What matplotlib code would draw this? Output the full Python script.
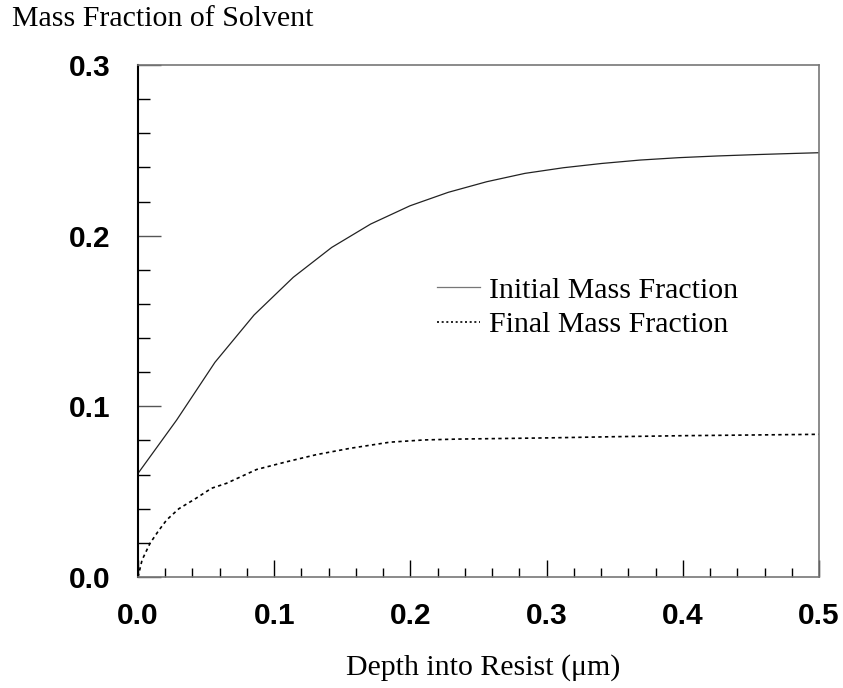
import matplotlib
matplotlib.use("Agg")
import matplotlib.pyplot as plt
from matplotlib.ticker import MultipleLocator, FormatStrFormatter

# Data
depth_initial = [0.0, 0.0284, 0.0565, 0.0852, 0.114, 0.1422, 0.1708, 0.1997, 0.2278,
                 0.256, 0.2841, 0.3123, 0.3404, 0.3686, 0.397, 0.4254, 0.4538, 0.4822, 0.5]
initial_fraction = [0.0607, 0.092, 0.1258, 0.1535, 0.1756, 0.1931, 0.2068, 0.2175, 0.2254,
                    0.2316, 0.2365, 0.2398, 0.2423, 0.2443, 0.2457, 0.2467, 0.2475, 0.2482, 0.2486]

depth_final = [0.0, 0.003, 0.0088, 0.015, 0.021, 0.03, 0.0418, 0.054, 0.065, 0.0871, 0.109,
               0.131, 0.1557, 0.185, 0.21, 0.234, 0.3, 0.349, 0.4, 0.45, 0.5]
final_fraction = [0.0, 0.010, 0.0197, 0.027, 0.0334, 0.040, 0.0457, 0.052, 0.0549, 0.063, 0.0675,
                  0.0717, 0.0754, 0.079, 0.0803, 0.0808, 0.0815, 0.0822, 0.0828, 0.0832, 0.0836]

series_labels = ["Initial Mass Fraction", "Final Mass Fraction"]
x_label = "Depth into Resist (\u03bcm)"
y_label = "Mass Fraction of Solvent"

W, H = 843, 688
fig = plt.figure(figsize=(W / 100, H / 100), dpi=100)
ax = fig.add_axes([138 / W, 1 - 577 / H, (819 - 138) / W, (577 - 65) / H])

ax.plot(depth_initial, initial_fraction, color="#222222", lw=0.9, label=series_labels[0])
ax.plot(depth_final, final_fraction, color="black", lw=1.2, linestyle=(0, (2.0, 2.0)),
        label=series_labels[1])

ax.set_xlim(0, 0.5)
ax.set_ylim(0, 0.3)

ax.xaxis.set_major_locator(MultipleLocator(0.1))
ax.xaxis.set_minor_locator(MultipleLocator(0.02))
ax.yaxis.set_major_locator(MultipleLocator(0.1))
ax.yaxis.set_minor_locator(MultipleLocator(0.02))
ax.xaxis.set_major_formatter(FormatStrFormatter("%.1f"))
ax.yaxis.set_major_formatter(FormatStrFormatter("%.1f"))

ax.tick_params(axis="x", which="major", direction="in", length=12, width=1, color="black",
               pad=18, top=False)
ax.tick_params(axis="x", which="minor", direction="in", length=6.5, width=1, color="black",
               top=False)
ax.tick_params(axis="y", which="major", direction="in", length=16.5, width=1, color="#555555",
               pad=20, right=False)
ax.tick_params(axis="y", which="minor", direction="in", length=8.5, width=1, color="black",
               right=False)
for lab in ax.get_xticklabels() + ax.get_yticklabels():
    lab.set_fontfamily("Liberation Sans")
    lab.set_fontweight("bold")
    lab.set_fontsize(21.5)

for side in ["top", "right", "bottom"]:
    ax.spines[side].set_color("#777777")
    ax.spines[side].set_linewidth(1.2)
ax.spines["left"].set_color("black")
ax.spines["left"].set_linewidth(1.5)

serif = dict(family="Liberation Serif", size=21.5)
fig.text(12 / W, 1 - 26 / H, y_label, ha="left", va="baseline", **serif)
fig.text(483 / W, 1 - 675 / H, x_label, ha="center", va="baseline", **serif)

leg = ax.legend(loc="upper left", bbox_to_anchor=(437 / W, 1 - 277 / H),
                bbox_transform=fig.transFigure, frameon=False, borderpad=0,
                borderaxespad=0, handlelength=1.44, handletextpad=0.3,
                labelspacing=0.25, prop=dict(family="Liberation Serif", size=21.5))
leg.get_lines()[0].set_color("#777777")
leg.get_lines()[1].set_linestyle((0, (1.2, 1.6)))

fig.savefig("out.png", dpi=100)
